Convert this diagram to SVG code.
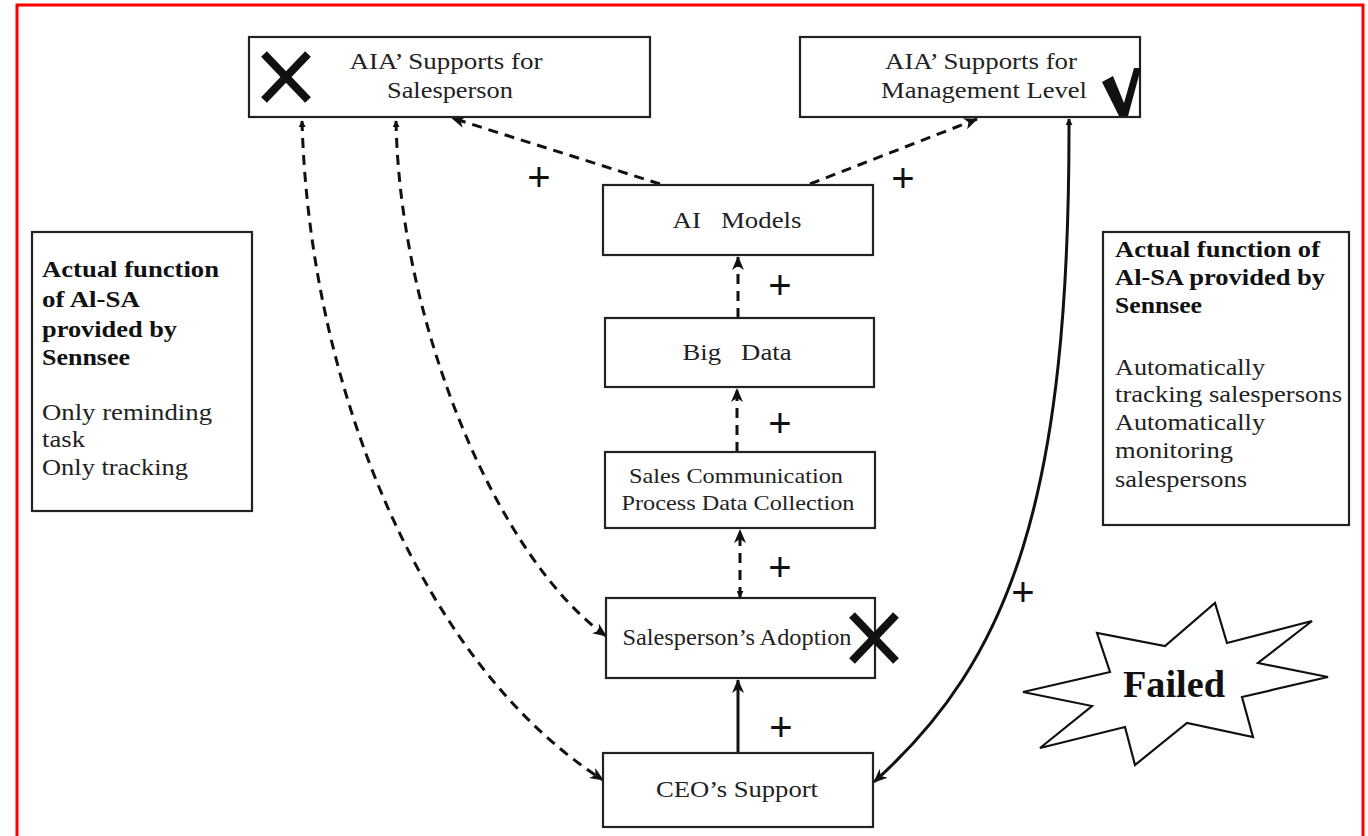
<svg xmlns="http://www.w3.org/2000/svg" width="1368" height="836" viewBox="0 0 1368 836">
<style>
  .box { fill: #ffffff; stroke: #222222; stroke-width: 2.2; }
  .t { font-family: "Liberation Serif", "Times New Roman", serif; font-size: 24px; fill: #222222; }
  .mid { text-anchor: middle; }
  .b { font-weight: bold; fill: #111111; }
  .plus { font-family: "Liberation Sans", Arial, sans-serif; font-size: 40px; text-anchor: middle; fill: #111111; }
  .dash { fill: none; stroke: #111111; stroke-width: 3; stroke-dasharray: 10 7; }
  .solid { fill: none; stroke: #111111; stroke-width: 3; }
  .cross { stroke: #111111; stroke-width: 8; }
</style>
<defs>
  <marker id="arr" viewBox="0 0 14 12" refX="13" refY="6" markerWidth="14" markerHeight="12" markerUnits="userSpaceOnUse" orient="auto">
    <path d="M0,0 L14,6 L0,12 L4,6 Z" fill="#111111"/>
  </marker>
  <marker id="sarr" viewBox="0 0 8 8" refX="7" refY="4" markerWidth="7" markerHeight="7" markerUnits="userSpaceOnUse" orient="auto-start-reverse">
    <path d="M0,0 L8,4 L0,8 Z" fill="#111111"/>
  </marker>
</defs>
<rect width="1368" height="836" fill="#ffffff"/>
<rect x="17" y="5" width="1346" height="845" fill="none" stroke="#ff0000" stroke-width="3"/>

<g id="connectors">
  <path class="dash" d="M660,184 L452,118" marker-end="url(#arr)"/>
  <path class="dash" d="M810,184 L977,119" marker-end="url(#arr)"/>
  <path class="dash" d="M738,318 L738,257" marker-end="url(#arr)"/>
  <path class="dash" d="M737,452 L737,389" marker-end="url(#arr)"/>
  <path class="dash" d="M740,597 L740,530" marker-start="url(#sarr)" marker-end="url(#arr)"/>
  <path class="dash" d="M302,121 C310,400 430,670 603,780" marker-start="url(#sarr)" marker-end="url(#arr)"/>
  <path class="dash" d="M396,121 C400,330 500,560 606,636" marker-start="url(#sarr)" marker-end="url(#arr)"/>
  <path class="solid" d="M738,753 L738,680" marker-end="url(#arr)"/>
  <path class="solid" d="M1069,119 C1070,500 1010,660 874,782" marker-start="url(#sarr)" marker-end="url(#arr)"/>
</g>

<g id="node-aia-salesperson">
  <rect class="box" x="249" y="37" width="401" height="80"/>
  <line class="cross" x1="264" y1="54" x2="308" y2="100"/>
  <line class="cross" x1="308" y1="54" x2="264" y2="100"/>
  <text class="t mid" x="446" y="69" textLength="193" lengthAdjust="spacingAndGlyphs">AIA’ Supports for</text>
  <text class="t mid" x="450" y="98" textLength="126" lengthAdjust="spacingAndGlyphs">Salesperson</text>
</g>

<g id="node-aia-management">
  <rect class="box" x="800" y="37" width="340" height="80"/>
  <text class="t mid" x="981" y="69" textLength="192" lengthAdjust="spacingAndGlyphs">AIA’ Supports for</text>
  <text class="t mid" x="984" y="98" textLength="206" lengthAdjust="spacingAndGlyphs">Management Level</text>
  <polygon points="1102,82 1113,76 1124,103 1134,68 1141,68 1128,116 1119,116" fill="#111111"/>
</g>

<g id="node-ai-models">
  <rect class="box" x="603" y="185" width="270" height="70"/>
  <text class="t mid" x="737" y="228" textLength="129" lengthAdjust="spacingAndGlyphs" xml:space="preserve">AI   Models</text>
</g>

<g id="node-big-data">
  <rect class="box" x="605" y="318" width="269" height="69"/>
  <text class="t mid" x="737" y="360" textLength="109" lengthAdjust="spacingAndGlyphs" xml:space="preserve">Big   Data</text>
</g>

<g id="node-sales-comm">
  <rect class="box" x="605" y="452" width="270" height="76"/>
  <text class="t mid" x="736" y="483" style="font-size:22px" textLength="214" lengthAdjust="spacingAndGlyphs">Sales Communication</text>
  <text class="t mid" x="738" y="510" style="font-size:22px" textLength="233" lengthAdjust="spacingAndGlyphs">Process Data Collection</text>
</g>

<g id="node-adoption">
  <rect class="box" x="606" y="598" width="269" height="80"/>
  <text class="t mid" x="737" y="645" textLength="229" lengthAdjust="spacingAndGlyphs">Salesperson’s Adoption</text>
  <line class="cross" x1="852" y1="615" x2="896" y2="661"/>
  <line class="cross" x1="896" y1="615" x2="852" y2="661"/>
</g>

<g id="node-ceo">
  <rect class="box" x="603" y="753" width="270" height="74"/>
  <text class="t mid" x="737" y="797" textLength="162" lengthAdjust="spacingAndGlyphs">CEO’s Support</text>
</g>

<g id="note-left">
  <rect class="box" x="32" y="232" width="220" height="279"/>
  <text class="t b" x="42" y="277" textLength="177" lengthAdjust="spacingAndGlyphs">Actual function</text>
  <text class="t b" x="42" y="307" textLength="98" lengthAdjust="spacingAndGlyphs">of Al-SA</text>
  <text class="t b" x="42" y="337" textLength="135" lengthAdjust="spacingAndGlyphs">provided by</text>
  <text class="t b" x="42" y="365" textLength="88" lengthAdjust="spacingAndGlyphs">Sennsee</text>
  <text class="t" x="42" y="420" textLength="170" lengthAdjust="spacingAndGlyphs">Only reminding</text>
  <text class="t" x="42" y="447" textLength="43" lengthAdjust="spacingAndGlyphs">task</text>
  <text class="t" x="42" y="475" textLength="146" lengthAdjust="spacingAndGlyphs">Only tracking</text>
</g>

<g id="note-right">
  <rect class="box" x="1103" y="232" width="246" height="293"/>
  <text class="t b" x="1115" y="257" textLength="205" lengthAdjust="spacingAndGlyphs">Actual function of</text>
  <text class="t b" x="1115" y="285" textLength="210" lengthAdjust="spacingAndGlyphs">Al-SA provided by</text>
  <text class="t b" x="1115" y="313" textLength="87" lengthAdjust="spacingAndGlyphs">Sennsee</text>
  <text class="t" x="1115" y="375" textLength="150" lengthAdjust="spacingAndGlyphs">Automatically</text>
  <text class="t" x="1115" y="402" textLength="227" lengthAdjust="spacingAndGlyphs">tracking salespersons</text>
  <text class="t" x="1115" y="430" textLength="150" lengthAdjust="spacingAndGlyphs">Automatically</text>
  <text class="t" x="1115" y="458" textLength="118" lengthAdjust="spacingAndGlyphs">monitoring</text>
  <text class="t" x="1115" y="487" textLength="132" lengthAdjust="spacingAndGlyphs">salespersons</text>
</g>

<g id="node-failed">
  <polygon points="1023,692 1110,672 1097,633 1165,646 1215,603 1227,643 1312,621 1258,663 1328,677 1242,697 1253,737 1187,723 1135,765 1125,727 1040,748 1092,706" fill="#ffffff" stroke="#111111" stroke-width="2.2" stroke-linejoin="miter"/>
  <text class="t b mid" x="1174" y="697" style="font-size:38px" textLength="102" lengthAdjust="spacingAndGlyphs">Failed</text>
</g>

<g id="labels">
  <text class="plus" x="539" y="191">+</text>
  <text class="plus" x="903" y="192">+</text>
  <text class="plus" x="780" y="299">+</text>
  <text class="plus" x="780" y="437">+</text>
  <text class="plus" x="780" y="581">+</text>
  <text class="plus" x="1023" y="606">+</text>
  <text class="plus" x="781" y="741">+</text>
</g>
</svg>
